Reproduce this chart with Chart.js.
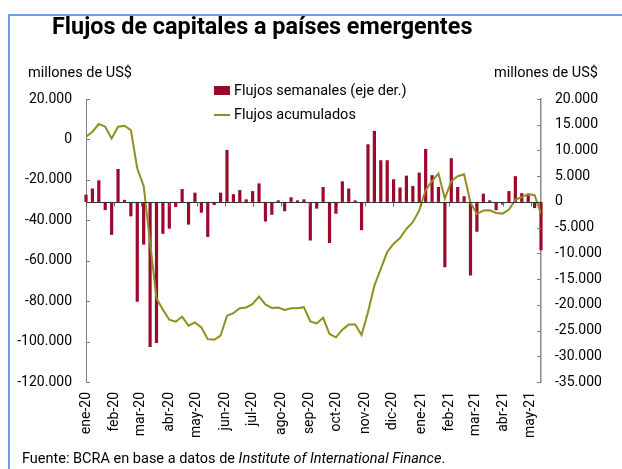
<!DOCTYPE html>
<html>
<head>
<meta charset="utf-8">
<script src="https://cdn.jsdelivr.net/npm/chart.js@4.4.1/dist/chart.umd.min.js"></script>
<style>
  body { margin: 0; background: #fff; font-family: Roboto, sans-serif; }
  #wrap { position: relative; width: 622px; height: 469px; overflow: hidden; }
  #frame { position: absolute; left: 8px; top: 14px; width: 700px; height: 500px;
           border-left: 2px solid #6f9ce4; border-top: 2px solid #6f9ce4; }
  canvas { position: absolute; left: 0; top: 0; }
  .txt { position: absolute; white-space: nowrap; color: #000; line-height: 1; }
  #title { left: 52px; top: 15px; font-size: 23.4px; font-weight: bold; }
  .unit { top: 66px; font-size: 14.5px; }
  .leg { left: 234px; font-size: 14.5px; }
  .sw { position: absolute; left: 214px; }
  #foot { left: 22px; top: 452px; font-size: 14.5px; }
</style>
</head>
<body>
<div id="wrap">
  <div id="frame"></div>
  <canvas id="chart" width="622" height="469"></canvas>
  <div class="txt" id="title">Flujos de capitales a países emergentes</div>
  <div class="txt unit" style="left:28px">millones de US$</div>
  <div class="txt unit" style="left:494px">millones de US$</div>
  <div class="sw" style="top:86px;width:16px;height:9px;background:#9b0a2c"></div>
  <div class="txt leg" style="top:84px">Flujos semanales (eje der.)</div>
  <div class="sw" style="top:114px;width:16px;height:2px;background:#8f8f1e"></div>
  <div class="txt leg" style="top:108px">Flujos acumulados</div>
  <div class="txt" id="foot">Fuente: BCRA en base a datos de <i>Institute of International Finance</i>.</div>
</div>
<script>
// semanas desde el 1 de enero de 2020, millones de US$
const firstWeek = Date.UTC(2020, 0, 1);
const semanales = [
  1400, 2600, 4200, -1600, -6400, 6400, 400, -2800, -19400, -8300,
  -28200, -27400, -6200, -5200, -1000, 2500, -4400, 1800, -2100, -6800,
  -600, 1800, 10100, 1500, 2300, 500, 2100, 3600, -3800, -2500,
  300, -1800, 900, 300, 500, -7500, -1300, 2900, -8000, -2300,
  4000, 2600, 300, -5500, 11200, 13800, 8100, 8100, 4400, 2800,
  5100, 3100, 5700, 10300, 5200, 2900, -12700, 8500, 2900, 1100,
  -14300, -5800, 1600, 300, -1600, -500, 2100, 5000, 1700, 1300,
  -1200, -9400
];
const acumulados = [
  1300, 3800, 7600, 6300, 500, 6300, 6800, 4600, -14400, -23000,
  -50800, -78600, -84200, -89200, -90200, -87700, -92100, -90500, -93000, -98800,
  -99100, -97100, -87200, -85900, -83500, -83200, -81400, -77700, -81600, -83400,
  -83200, -84400, -83500, -83500, -83000, -90000, -91000, -88200, -96300, -97900,
  -94100, -91600, -91600, -96800, -85500, -72300, -64000, -55700, -51600, -48800,
  -44200, -40900, -35100, -25100, -20500, -16900, -29300, -20700, -18200, -17200,
  -31300, -36900, -35200, -35100, -36400, -36700, -34700, -29900, -28500, -27000,
  -27600, -36700
];
const meses = ['ene-20', 'feb-20', 'mar-20', 'abr-20', 'may-20', 'jun-20', 'jul-20', 'ago-20',
  'sep-20', 'oct-20', 'nov-20', 'dic-20', 'ene-21', 'feb-21', 'mar-21', 'abr-21', 'may-21'];

const DAY = 86400000;
const weekDays = semanales.map((v, i) => i * 7);
const monthDays = meses.map((m, i) => Math.round((Date.UTC(2020, i, 1) - firstWeek) / DAY));

const fmt = v => (v < 0 ? '-' : '') + Math.abs(v).toString().replace(/\B(?=(\d{3})+(?!\d))/g, '.');
const font = { family: 'Roboto', size: 14 };

// ticks hacia adentro y linea del cero del eje derecho
const axisMarks = {
  id: 'axisMarks',
  afterDatasetsDraw(chart) {
    const { ctx, chartArea, scales } = chart;
    ctx.save();
    ctx.lineWidth = 1;
    ctx.strokeStyle = '#808080';
    scales.y.ticks.forEach(t => {
      const y = Math.round(scales.y.getPixelForValue(t.value)) + 0.5;
      ctx.beginPath(); ctx.moveTo(chartArea.left, y); ctx.lineTo(chartArea.left + 4, y); ctx.stroke();
    });
    scales.y1.ticks.forEach(t => {
      const y = Math.round(scales.y1.getPixelForValue(t.value)) + 0.5;
      ctx.beginPath(); ctx.moveTo(chartArea.right - 4, y); ctx.lineTo(chartArea.right, y); ctx.stroke();
    });
    const y0 = Math.round(scales.y1.getPixelForValue(0)) + 0.5;
    ctx.strokeStyle = '#333';
    ctx.beginPath(); ctx.moveTo(chartArea.left, y0); ctx.lineTo(chartArea.right, y0); ctx.stroke();
    ctx.strokeStyle = '#666';
    monthDays.forEach(d => {
      const x = Math.round(scales.x.getPixelForValue(d)) + 0.5;
      ctx.beginPath(); ctx.moveTo(x, y0); ctx.lineTo(x, y0 + 4); ctx.stroke();
    });
    ctx.restore();
  }
};

new Chart(document.getElementById('chart'), {
  type: 'bar',
  data: {
    datasets: [{
      type: 'line',
      label: 'Flujos acumulados',
      data: acumulados.map((v, i) => ({ x: weekDays[i], y: v })),
      yAxisID: 'y',
      borderColor: '#8f8f1e',
      borderWidth: 2,
      pointRadius: 0,
      tension: 0,
      order: 0
    }, {
      label: 'Flujos semanales (eje der.)',
      data: semanales.map((v, i) => ({ x: weekDays[i], y: v })),
      yAxisID: 'y1',
      backgroundColor: '#9b0a2c',
      barPercentage: 0.5,
      categoryPercentage: 1,
      clip: false,
      order: 1
    }]
  },
  options: {
    responsive: false,
    animation: false,
    layout: { padding: { top: 99, left: 0, right: 0, bottom: 0 } },
    plugins: { legend: { display: false }, tooltip: { enabled: false } },
    scales: {
      x: {
        type: 'linear',
        min: 0,
        max: weekDays[weekDays.length - 1],
        offset: false,
        border: { display: false },
        grid: { display: false, drawTicks: false },
        afterBuildTicks: s => { s.ticks = monthDays.map(v => ({ value: v })); },
        ticks: {
          autoSkip: false, maxRotation: 90, minRotation: 90, padding: 10,
          color: '#000', font,
          callback: (v, i) => meses[i]
        },
        afterFit: s => { s.height = 87; }
      },
      y: {
        position: 'left',
        min: -120000, max: 20000,
        border: { display: true, color: '#808080', width: 1 },
        grid: { display: false, drawTicks: false },
        ticks: { stepSize: 20000, padding: 14, color: '#000', font, callback: v => fmt(v) },
        afterFit: s => { s.width = 86; }
      },
      y1: {
        position: 'right',
        min: -35000, max: 20000,
        border: { display: true, color: '#8c8c8c', width: 1.5 },
        grid: { display: false, drawTicks: false },
        ticks: { stepSize: 5000, padding: 14, color: '#000', font, callback: v => fmt(v) },
        afterFit: s => { s.width = 81; }
      }
    }
  },
  plugins: [axisMarks]
});
</script>
</body>
</html>
